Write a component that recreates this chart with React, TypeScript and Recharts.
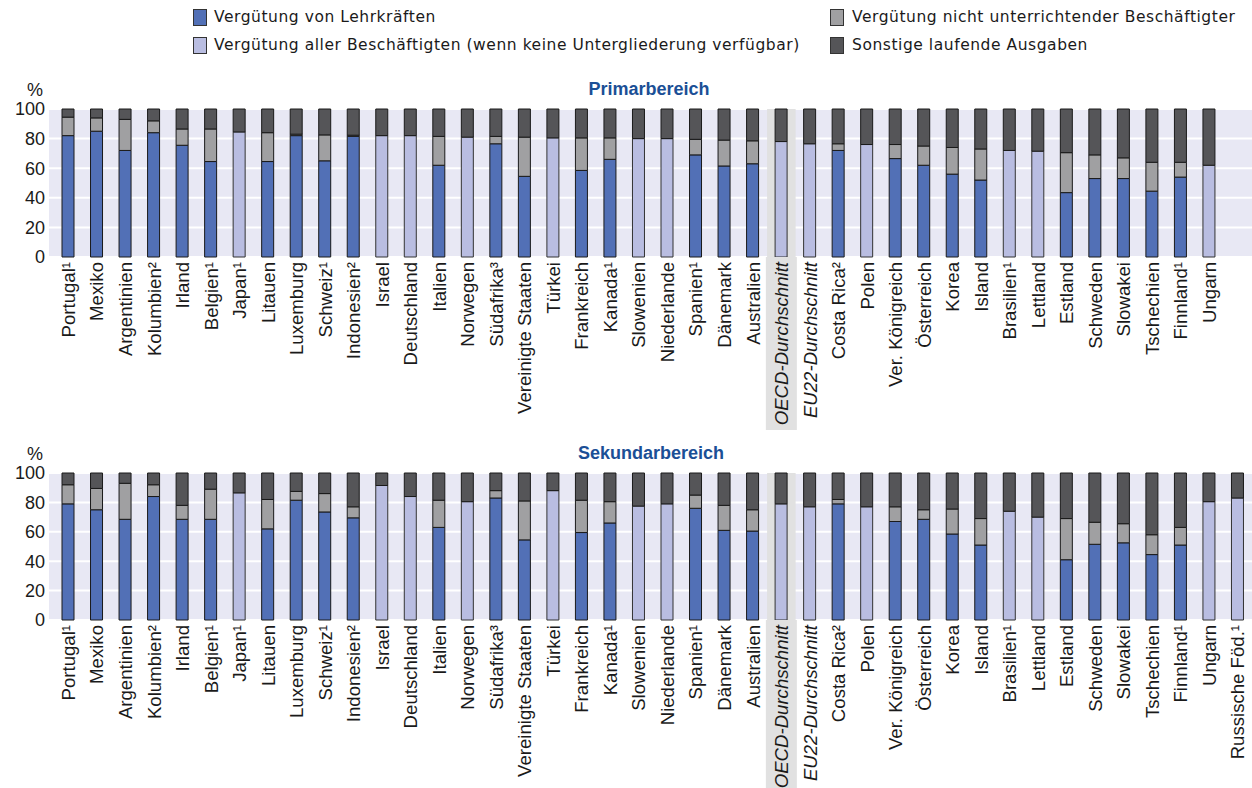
import React from 'react';
import { BarChart, Bar, XAxis, YAxis, CartesianGrid, ReferenceArea } from 'recharts';

// Categories (x axis)
const categories: string[] = [
  'Portugal¹', 'Mexiko', 'Argentinien', 'Kolumbien²', 'Irland', 'Belgien¹', 'Japan¹', 'Litauen',
  'Luxemburg', 'Schweiz¹', 'Indonesien²', 'Israel', 'Deutschland', 'Italien', 'Norwegen', 'Südafrika³',
  'Vereinigte Staaten', 'Türkei', 'Frankreich', 'Kanada¹', 'Slowenien', 'Niederlande', 'Spanien¹',
  'Dänemark', 'Australien', 'OECD-Durchschnitt', 'EU22-Durchschnitt', 'Costa Rica²', 'Polen',
  'Ver. Königreich', 'Österreich', 'Korea', 'Island', 'Brasilien¹', 'Lettland', 'Estland', 'Schweden',
  'Slowakei', 'Tschechien', 'Finnland¹', 'Ungarn', 'Russische Föd.¹',
];

const yTicks: number[] = [0, 20, 40, 60, 80, 100];

// Primarbereich (segment sizes, %)
const primTeacher: (number | null)[] = [
  82, 85, 72, 84, 75.5, 64.5, null, 64.5, 82, 65, 81.5, null, null, 62, null, 76.5,
  54.5, null, 58.5, 66, null, null, 69, 61.5, 63, null, null, 72, null, 66.5, 62, 56,
  52, null, null, 43.5, 53, 53, 44.5, 54, null, null,
];
const primAllStaff: (number | null)[] = [
  null, null, null, null, null, null, 84.5, null, null, null, null, 82, 82, null, 81, null,
  null, 80.5, null, null, 80, 80, null, null, null, 78, 76.5, null, 76, null, null, null,
  null, 72, 71.5, null, null, null, null, null, 62, null,
];
const primNonTeaching: (number | null)[] = [
  12.5, 9, 21, 8, 11, 22, null, 19.5, 1, 17.5, 0.8, null, null, 19.5, null, 5,
  26.5, null, 22, 14.5, null, null, 10.5, 17.5, 15.5, null, null, 4.5, null, 9.5, 13, 18,
  21, null, null, 27, 16, 14, 19.5, 10, null, null,
];
const primOther: (number | null)[] = [
  5.5, 6, 7, 8, 13.5, 13.5, 15.5, 16, 17, 17.5, 17.7, 18, 18, 18.5, 19, 18.5,
  19, 19.5, 19.5, 19.5, 20, 20, 20.5, 21, 21.5, 22, 23.5, 23.5, 24, 24, 25, 26,
  27, 28, 28.5, 29.5, 31, 33, 36, 36, 38, null,
];

// Sekundarbereich (segment sizes, %)
const sekTeacher: (number | null)[] = [
  79, 75, 68.5, 84, 68.5, 68.5, null, 62, 81.5, 73.5, 69.5, null, null, 63, null, 83,
  54.5, null, 59.5, 66, null, null, 76, 61, 60.5, null, null, 79, null, 67, 68.5, 58.5,
  51, null, null, 41, 51.5, 52.5, 44.5, 51, null, null,
];
const sekAllStaff: (number | null)[] = [
  null, null, null, null, null, null, 86.5, null, null, null, null, 91.5, 84, null, 80.5, null,
  null, 88, null, null, 77.5, 79, null, null, null, 79, 77, null, 77, null, null, null,
  null, 74, 70, null, null, null, null, null, 80.5, 83,
];
const sekNonTeaching: (number | null)[] = [
  13, 14.5, 24.5, 8, 9.5, 20.5, null, 20, 6, 12.5, 7.5, null, null, 18.5, null, 5,
  26.5, null, 22, 14.5, null, null, 9, 17, 14.5, null, null, 3, null, 10, 6.5, 17,
  18, null, null, 28, 15, 13, 13.5, 12, null, null,
];
const sekOther: (number | null)[] = [
  8, 10.5, 7, 8, 22, 11, 13.5, 18, 12.5, 14, 23, 8.5, 16, 18.5, 19.5, 12,
  19, 12, 18.5, 19.5, 22.5, 21, 15, 22, 25, 21, 23, 18, 23, 23, 25, 24.5,
  31, 26, 30, 31, 33.5, 34.5, 42, 37, 19.5, 17,
];

const legendItems: { label: string; color: string }[] = [
  { label: 'Vergütung von Lehrkräften', color: '#5270B6' },
  { label: 'Vergütung aller Beschäftigten (wenn keine Untergliederung verfügbar)', color: '#B9BDE1' },
  { label: 'Vergütung nicht unterrichtender Beschäftigter', color: '#A0A0A2' },
  { label: 'Sonstige laufende Ausgaben', color: '#555558' },
];

const C_TEACH = '#5270B6';
const C_ALL = '#B9BDE1';
const C_NON = '#A0A0A2';
const C_OTHER = '#555558';
const PLOT_BG = '#E8E8F4';
const HILITE = '#E1E1E1';
const AVG = 'OECD-Durchschnitt';

function buildRows(
  labelsShown: boolean[],
  t: (number | null)[], a: (number | null)[], n: (number | null)[], o: (number | null)[],
) {
  return categories.map((c, i) => ({
    label: labelsShown[i] ? c : ' ',
    teacher: t[i], all: a[i], non: n[i], other: o[i],
  }));
}

const primRows = buildRows(categories.map((_, i) => i < categories.length - 1), primTeacher, primAllStaff, primNonTeaching, primOther);
const sekRows = buildRows(categories.map(() => true), sekTeacher, sekAllStaff, sekNonTeaching, sekOther);

const FONT = '"Liberation Sans", Arial, sans-serif';

const makeTick = (hiliteH: number) => (props: any) => {
  const { x, y, payload } = props;
  const v: string = String(payload.value);
  const isAvg = v.indexOf('Durchschnitt') >= 0;
  return (
    <g transform={`translate(${x},${y})`}>
      {v === AVG && <rect x={-15.5} y={0} width={31} height={hiliteH} fill={HILITE} />}
      <text
        transform="rotate(-90)"
        x={-5}
        y={0}
        dy="0.36em"
        textAnchor="end"
        fontFamily={FONT}
        fontSize={18.6}
        fontStyle={isAvg ? 'italic' : 'normal'}
        fill="#1a1a1a"
      >
        {v}
      </text>
    </g>
  );
};

function Panel({ rows, height, xAxisHeight, hiliteH }: { rows: any[]; height: number; xAxisHeight: number; hiliteH: number }) {
  return (
    <BarChart width={1252} height={height} data={rows} margin={{ top: 33, right: 0, left: 0, bottom: 0 }} barSize={12}>
      <CartesianGrid horizontal vertical={false} stroke="#FFFFFF" strokeWidth={2} fill={PLOT_BG} />
      <ReferenceArea x1={AVG} x2={AVG} fill={HILITE} fillOpacity={1} stroke="none" ifOverflow="visible" />
      <XAxis
        dataKey="label"
        interval={0}
        height={xAxisHeight}
        tickLine={false}
        axisLine={false}
        tickSize={0}
        tickMargin={0}
        padding={{ left: 5, right: 0 }}
        tick={makeTick(hiliteH)}
      />
      <YAxis
        domain={[0, 100]}
        ticks={yTicks}
        width={49}
        tickLine={false}
        axisLine={false}
        tickSize={0}
        tickMargin={4}
        tick={{ fontSize: 18, fill: '#1a1a1a', fontFamily: FONT }}
      />
      <Bar dataKey="teacher" stackId="s" fill={C_TEACH} stroke="#1a1a1a" strokeWidth={1} isAnimationActive={false} />
      <Bar dataKey="all" stackId="s" fill={C_ALL} stroke="#333" strokeWidth={1} isAnimationActive={false} />
      <Bar dataKey="non" stackId="s" fill={C_NON} stroke="#1a1a1a" strokeWidth={1} isAnimationActive={false} />
      <Bar dataKey="other" stackId="s" fill={C_OTHER} stroke="#1a1a1a" strokeWidth={1} isAnimationActive={false} />
    </BarChart>
  );
}

const abs = (left: number, top: number, extra: React.CSSProperties = {}): React.CSSProperties => ({
  position: 'absolute', left, top, ...extra,
});

export default function App() {
  const legendFont: React.CSSProperties = { fontFamily: '"DejaVu Sans", sans-serif', fontSize: 15.5, letterSpacing: 0.55, color: '#1a1a1a', whiteSpace: 'nowrap', lineHeight: '18px' };
  const sw = (c: string): React.CSSProperties => ({ width: 12, height: 15, background: c, border: '1px solid #333' });
  return (
    <div style={{ position: 'absolute', left: 0, top: 0, width: 1252, height: 788, background: '#fff', overflow: 'hidden' }}>
      {/* legend */}
      <div style={abs(193, 9, sw(legendItems[0].color))} />
      <div style={abs(214, 8, legendFont)}>{legendItems[0].label}</div>
      <div style={abs(193, 37, sw(legendItems[1].color))} />
      <div style={abs(214, 36, legendFont)}>{legendItems[1].label}</div>
      <div style={abs(830, 9, sw(legendItems[2].color))} />
      <div style={abs(852, 8, legendFont)}>{legendItems[2].label}</div>
      <div style={abs(830, 37, sw(legendItems[3].color))} />
      <div style={abs(852, 36, legendFont)}>{legendItems[3].label}</div>

      {/* panel 1 */}
      <div style={abs(27, 80, { fontFamily: FONT, fontSize: 18, color: '#1a1a1a' })}>%</div>
      <div style={abs(449, 79, { width: 400, textAlign: 'center', fontFamily: FONT, fontSize: 18, fontWeight: 'bold', color: '#1B4F96' })}>Primarbereich</div>
      <div style={abs(0, 76)}>
        <Panel rows={primRows} height={360} xAxisHeight={179} hiliteH={173} />
      </div>

      {/* panel 2 */}
      <div style={abs(27, 444, { fontFamily: FONT, fontSize: 18, color: '#1a1a1a' })}>%</div>
      <div style={abs(451, 443, { width: 400, textAlign: 'center', fontFamily: FONT, fontSize: 18, fontWeight: 'bold', color: '#1B4F96' })}>Sekundarbereich</div>
      <div style={abs(0, 440)}>
        <Panel rows={sekRows} height={348} xAxisHeight={168} hiliteH={170} />
      </div>
    </div>
  );
}
